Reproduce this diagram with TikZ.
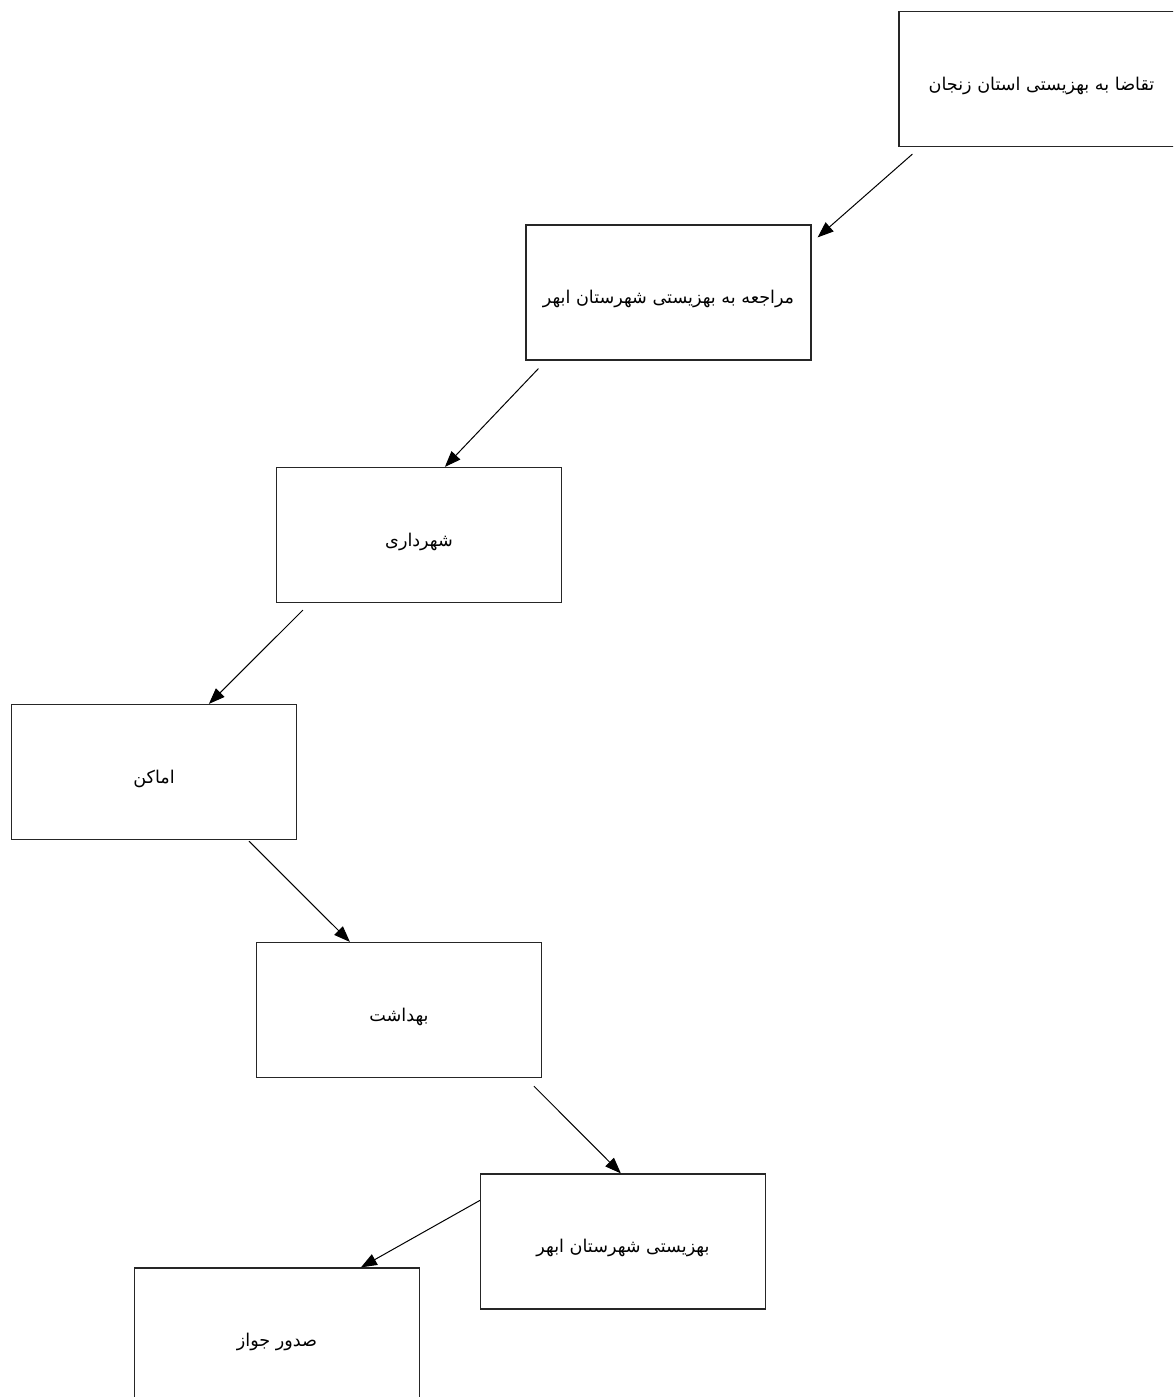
\documentclass[tikz,border=0pt]{standalone}
\usepackage{fontspec}
\newfontfamily\arabicfont[Script=Arabic]{DejaVu Sans}
\TeXXeTstate=1
\usetikzlibrary{arrows.meta,calc}
\newcommand{\rtltext}[1]{\raisebox{-5.5pt}[0pt][0pt]{\beginR #1\endR}}
\begin{document}
\begin{tikzpicture}[x=0.5pt,y=-0.5pt,
  box/.style={draw=black!85,line width=0.6pt,rectangle,minimum width=142.5pt,minimum height=67.5pt,inner sep=0pt,font=\arabicfont\fontsize{8.8}{11}\selectfont},
  flow/.style={draw=black,line width=0.5pt,-{Triangle[length=8pt,width=6pt]}}]
\useasboundingbox (0,0) rectangle (1173,1397);
\clip (0,0) rectangle (1173,1397);
\node[box] (b1) at (1041.5,79) {\rtltext{تقاضا  به بهزیستی استان زنجان}};
\node[box] (b2) at (668.5,292.5) {\rtltext{مراجعه به بهزیستی شهرستان ابهر}};
\node[box] (b3) at (419,535) {\rtltext{شهرداری}};
\node[box] (b4) at (154,772) {\rtltext{اماکن}};
\node[box] (b5) at (399,1010) {\rtltext{بهداشت}};
\node[box] (b6) at (623,1241.5) {\rtltext{بهزیستی  شهرستان ابهر}};
\node[box] (b7) at (277,1335.5) {\rtltext{صدور جواز}};
\coordinate (s1) at ($(b1.south west)+(14,7)$);
\coordinate (e1) at ($(b2.north east)+(6,13)$);
\coordinate (s2) at ($(b2.south west)+(13,8)$);
\coordinate (e2) at ($(b3.north west)+(169,0)$);
\coordinate (s3) at ($(b3.south west)+(27,7)$);
\coordinate (e3) at ($(b4.north west)+(198,0)$);
\coordinate (s4) at ($(b4.south west)+(238,1)$);
\coordinate (e4) at ($(b5.north west)+(94,0)$);
\coordinate (s5) at ($(b5.south west)+(278,8)$);
\coordinate (e5) at ($(b6.north west)+(141,0)$);
\coordinate (s6) at ($(b6.north west)+(0,27)$);
\coordinate (e6) at ($(b7.north west)+(227,0)$);
\draw[flow] (s1) -- (e1);
\draw[flow] (s2) -- (e2);
\draw[flow] (s3) -- (e3);
\draw[flow] (s4) -- (e4);
\draw[flow] (s5) -- (e5);
\draw[flow] (s6) -- (e6);
\end{tikzpicture}
\end{document}
